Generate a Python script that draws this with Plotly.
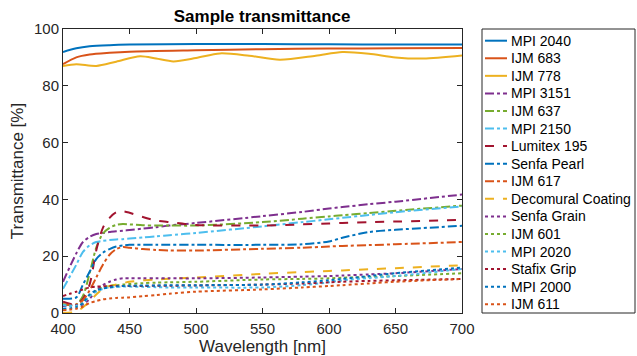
import plotly.graph_objects as go

names = ["MPI 2040", "IJM 683", "IJM 778", "MPI 3151", "IJM 637", "MPI 2150",
         "Lumitex 195", "Senfa Pearl", "IJM 617", "Decomural Coating", "Senfa Grain",
         "IJM 601", "MPI 2020", "Stafix Grip", "MPI 2000", "IJM 611"]

colors = ["#0072BD", "#D95319", "#EDB120", "#7E2F8E", "#77AC30", "#4DBEEE", "#A2142F",
          "#0072BD", "#D95319", "#EDB120", "#7E2F8E", "#77AC30", "#4DBEEE", "#A2142F",
          "#0072BD", "#D95319"]

dashes = ["solid", "solid", "solid", "dashdot", "dashdot", "dashdot", "dash",
          "dashdot", "dashdot", "dash", "dot", "dot", "dot", "dot", "dot", "dot"]

wl_mpi2040 = [400, 410, 420, 435, 450, 500, 550, 600, 650, 700]
mpi2040 = [91.9, 93.2, 93.9, 94.3, 94.5, 94.7, 94.7, 94.6, 94.5, 94.5]

wl_ijm683 = [400, 410, 420, 435, 450, 500, 550, 600, 650, 700]
ijm683 = [87.6, 90.0, 91.0, 91.6, 92.0, 92.5, 92.9, 93.1, 93.2, 93.3]

wl_ijm778 = [400, 410, 425, 440, 458, 470, 483, 500, 518, 540, 563, 590, 610, 630, 650, 671, 700]
ijm778 = [87.0, 87.6, 87.0, 88.5, 90.4, 89.6, 88.6, 89.8, 91.4, 90.6, 89.2, 90.6, 91.9, 91.3, 90.0, 89.6, 90.7]

wl_low = [400, 410, 415, 420, 425, 430, 435, 440, 445, 450, 460, 470, 480, 500, 550, 580, 600, 610, 630, 650, 700]

mpi3151 = [11.0, 21.0, 25.0, 26.8, 27.8, 28.2, 28.5, 28.8, 29.0, 29.2, 29.7, 30.2, 30.8, 31.7, 34.1, 35.6, 36.8, 37.3, 38.3, 39.2, 41.7]
ijm637 = [3.0, 3.0, 6.0, 14.0, 23.0, 28.0, 30.0, 31.0, 31.3, 31.2, 30.9, 30.8, 30.8, 30.8, 32.0, 33.2, 34.0, 34.4, 35.2, 36.0, 37.8]
mpi2150 = [8.5, 17.0, 21.5, 23.8, 25.0, 25.4, 25.7, 25.9, 26.0, 26.2, 26.6, 27.0, 27.4, 28.2, 30.5, 32.0, 33.0, 33.5, 34.5, 35.5, 37.5]
lumitex195 = [4.0, 3.0, 5.0, 10.0, 22.0, 30.0, 33.5, 35.5, 35.8, 35.3, 33.8, 32.6, 32.0, 31.0, 30.8, 31.2, 31.5, 31.7, 32.0, 32.2, 32.8]
senfapearl = [5.0, 5.5, 10.0, 14.5, 19.0, 21.2, 22.5, 23.4, 23.8, 24.0, 24.0, 24.0, 24.0, 24.0, 24.0, 24.2, 25.2, 26.5, 28.5, 29.3, 30.7]
ijm617 = [3.0, 3.0, 4.5, 8.0, 12.5, 17.0, 20.5, 22.5, 23.2, 23.0, 22.5, 22.2, 22.0, 22.0, 22.6, 23.0, 23.4, 23.6, 23.9, 24.2, 25.0]
decomural = [0.0, 0.5, 2.0, 4.0, 6.5, 8.5, 9.5, 10.0, 10.5, 11.0, 11.5, 11.8, 12.1, 12.5, 13.8, 14.4, 14.8, 15.0, 15.4, 15.8, 16.8]
senfagrain = [2.5, 2.8, 3.0, 5.0, 8.0, 9.8, 11.0, 11.8, 12.2, 12.2, 12.2, 12.2, 12.2, 12.2, 12.5, 12.8, 13.0, 13.2, 13.6, 14.0, 15.5]
ijm601 = [3.0, 2.5, 3.5, 6.0, 7.8, 9.0, 9.5, 9.8, 10.0, 10.2, 10.5, 10.7, 10.8, 11.0, 11.8, 12.0, 12.2, 12.4, 12.7, 13.0, 14.0]
mpi2020 = [2.8, 2.5, 3.5, 6.0, 7.5, 8.5, 9.0, 9.2, 9.3, 9.3, 9.2, 9.1, 9.0, 9.0, 9.0, 9.8, 10.8, 11.5, 12.3, 13.0, 15.5]
stafixgrip = [6.0, 7.5, 8.3, 9.0, 9.3, 9.4, 9.5, 9.5, 9.5, 9.5, 9.5, 9.6, 9.6, 9.7, 10.0, 10.4, 10.8, 11.0, 11.3, 11.5, 12.0]
mpi2000 = [1.5, 2.0, 3.5, 6.5, 8.0, 8.6, 9.0, 9.3, 9.5, 9.6, 9.7, 9.7, 9.8, 9.8, 10.0, 10.8, 11.5, 12.0, 13.0, 14.0, 16.0]
ijm611 = [1.0, 1.5, 2.3, 3.5, 4.2, 4.8, 5.1, 5.3, 5.4, 5.5, 5.9, 6.3, 6.8, 7.5, 8.3, 9.0, 9.5, 9.8, 10.4, 11.0, 12.0]

xs = [wl_mpi2040, wl_ijm683, wl_ijm778] + [wl_low] * 13
ys = [mpi2040, ijm683, ijm778, mpi3151, ijm637, mpi2150, lumitex195, senfapearl,
      ijm617, decomural, senfagrain, ijm601, mpi2020, stafixgrip, mpi2000, ijm611]

x_ticks = [400, 450, 500, 550, 600, 650, 700]
y_ticks = [0, 20, 40, 60, 80, 100]

W, H = 637, 356
ML, MR, MT, MB = 63, 175, 29, 43
PW, PH = W - ML - MR, H - MT - MB

def px_x(p):
    return (p - ML) / PW

def px_y(p):
    return (H - MB - p) / PH

fig = go.Figure()
for n, c, d, x, y in zip(names, colors, dashes, xs, ys):
    fig.add_trace(go.Scatter(x=x, y=y, name=n, mode="lines", showlegend=False,
                             line=dict(color=c, dash=d, width=2, shape="spline", smoothing=0.8)))

# legend drawn as layout decorations (box, sample lines, labels)
shapes = [dict(type="rect", xref="paper", yref="paper",
               x0=px_x(482), x1=px_x(635), y0=px_y(29), y1=px_y(313),
               line=dict(color="#262626", width=1), fillcolor="white", layer="above")]
annotations = []
row0, step = 40.7, 17.57
for i, (n, c, d) in enumerate(zip(names, colors, dashes)):
    yy = px_y(row0 + i * step)
    shapes.append(dict(type="line", xref="paper", yref="paper",
                       x0=px_x(485), x1=px_x(507), y0=yy, y1=yy,
                       line=dict(color=c, dash=d, width=2), layer="above"))
    annotations.append(dict(text=n, xref="paper", yref="paper", x=px_x(508.5), y=yy,
                            xanchor="left", yanchor="middle", showarrow=False,
                            font=dict(size=14, color="black")))

axis_common = dict(showgrid=False, zeroline=False, ticks="inside", ticklen=5,
                   tickcolor="#262626", linecolor="#262626", linewidth=1, mirror="ticks",
                   showline=True, automargin=False,
                   tickfont=dict(size=15, color="#262626"))

fig.update_layout(
    width=W, height=H,
    font=dict(family="Liberation Sans, Arial, sans-serif", color="#262626"),
    paper_bgcolor="white", plot_bgcolor="white",
    margin=dict(l=ML, r=MR, t=MT, b=MB),
    showlegend=False,
    title=dict(text="<b>Sample transmittance</b>", x=0.4115, xanchor="center",
               y=0.955, yanchor="middle", font=dict(size=17, color="black")),
    xaxis=dict(range=[400, 700], tickvals=x_ticks, ticklabelstandoff=2,
               title=dict(text="Wavelength [nm]", font=dict(size=17), standoff=0),
               **axis_common),
    yaxis=dict(range=[0, 100], tickvals=y_ticks,
               title=dict(text="Transmittance [%]", font=dict(size=17), standoff=6),
               **axis_common),
    shapes=shapes,
    annotations=annotations,
)

fig.write_html("out.html", config={"displayModeBar": False},
               post_script="document.body.style.margin='0';")
